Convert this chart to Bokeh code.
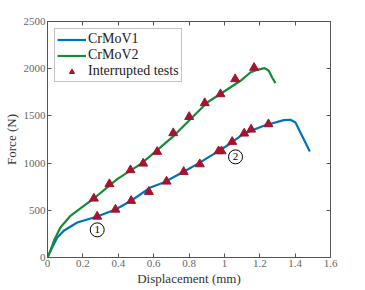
from bokeh.plotting import figure
from bokeh.models import LinearAxis, Range1d, Legend, LegendItem, FixedTicker
from bokeh.embed import file_html
from bokeh.resources import INLINE
from bokeh.core.properties import value

# CrMoV1 curve (blue)
v1_x = [0, 0.017, 0.055, 0.092, 0.168, 0.281, 0.384, 0.473, 0.582, 0.657, 0.770, 0.846,
        0.967, 1.034, 1.112, 1.223, 1.336, 1.374, 1.402, 1.430, 1.458, 1.483]
v1_y = [0, 71, 212, 283, 371, 434, 508, 601, 742, 795, 908, 989,
        1127, 1208, 1314, 1395, 1455, 1459, 1430, 1324, 1218, 1123]
# CrMoV2 curve (green)
v2_x = [0, 0.017, 0.036, 0.073, 0.130, 0.205, 0.262, 0.394, 0.526, 0.582, 0.714, 0.903,
        1.091, 1.147, 1.185, 1.227, 1.251, 1.270, 1.289]
v2_y = [0, 71, 177, 318, 442, 548, 625, 830, 989, 1077, 1289, 1642,
        1872, 1960, 1988, 2006, 1978, 1907, 1847]
# Interrupted tests
it_x = [0.262, 0.350, 0.469, 0.541, 0.620, 0.711, 0.801, 0.889, 0.978, 1.061, 1.168,
        0.281, 0.384, 0.473, 0.573, 0.673, 0.770, 0.861, 0.967, 0.984, 1.044, 1.112, 1.151, 1.249]
it_y = [625, 778, 926, 996, 1120, 1318, 1490, 1636, 1731, 1890, 2010,
        434, 508, 601, 696, 805, 908, 989, 1127, 1127, 1226, 1314, 1356, 1413]
# Circled annotations
ann_x = [0.281, 1.063]
ann_y = [293, 1066]
ann_t = ["1", "2"]

x_ticks = [0, 0.2, 0.4, 0.6, 0.8, 1, 1.2, 1.4, 1.6]
y_ticks = [0, 500, 1000, 1500, 2000, 2500]

BLUE = "#0072BD"
GREEN = "#178A3A"
RED = "#A2142F"
FONT = "Liberation Serif"
AX = "#555555"

p = figure(width=362, height=290, output_backend="svg", toolbar_location=None,
           x_range=Range1d(0, 1.6), y_range=Range1d(0, 2500),
           min_border_left=47, min_border_right=32, min_border_top=21, min_border_bottom=33)
p.grid.visible = False
p.outline_line_color = None
p.background_fill_color = "white"

l1 = p.line(v1_x, v1_y, line_color=BLUE, line_width=2.2)
l2 = p.line(v2_x, v2_y, line_color=GREEN, line_width=2.2)
tr = p.scatter(it_x, it_y, marker="triangle", size=9, fill_color=RED, line_color=RED)

p.scatter(ann_x, ann_y, marker="circle", size=14, fill_color=None, line_color="black", line_width=1)
p.text(ann_x, ann_y, text=ann_t, text_align="center", text_baseline="middle",
       text_font=value(FONT), text_font_size="11px", text_color="black")

for ax in (p.xaxis[0], p.yaxis[0]):
    ax.major_tick_in = 4
    ax.major_tick_out = 0
    ax.minor_tick_in = 0
    ax.minor_tick_out = 0
    ax.axis_line_color = AX
    ax.major_tick_line_color = AX
    ax.major_label_text_font = FONT
    ax.major_label_text_font_size = "11px"
    ax.major_label_text_color = "#666666"
    ax.axis_label_text_font = FONT
    ax.axis_label_text_font_size = "13px"
    ax.axis_label_text_font_style = "normal"
    ax.axis_label_text_color = "#333333"
p.xaxis[0].major_label_standoff = 2
p.xaxis[0].axis_label_standoff = 1
p.yaxis[0].major_label_standoff = 2
p.yaxis[0].axis_label_standoff = 2
p.xaxis[0].ticker = FixedTicker(ticks=x_ticks)
p.yaxis[0].ticker = FixedTicker(ticks=y_ticks)
p.xaxis[0].major_label_overrides = {0: "0", 1: "1"}
p.xaxis[0].axis_label = "Displacement (mm)"
p.yaxis[0].axis_label = "Force (N)"

for loc, ticks in (("above", x_ticks), ("right", y_ticks)):
    a = LinearAxis(ticker=FixedTicker(ticks=ticks), major_tick_in=4, major_tick_out=0,
                   minor_tick_in=0, minor_tick_out=0, axis_line_color=AX,
                   major_tick_line_color=AX, major_label_standoff=0,
                   major_label_overrides={t: "" for t in ticks})
    p.add_layout(a, loc)

legend = Legend(items=[LegendItem(label="CrMoV1", renderers=[l1]),
                       LegendItem(label="CrMoV2", renderers=[l2]),
                       LegendItem(label="Interrupted tests", renderers=[tr])],
                location=(7, 175))
legend.label_text_font = FONT
legend.label_text_font_size = "14px"
legend.label_text_color = "#222222"
legend.glyph_width = 29
legend.glyph_height = 13
legend.label_height = 13
legend.spacing = 0
legend.padding = 2
legend.margin = 0
legend.label_standoff = 2
legend.border_line_color = "#888888"
legend.border_line_width = 1
legend.background_fill_alpha = 1
p.add_layout(legend)

open("out.html", "w").write(file_html(p, INLINE))
